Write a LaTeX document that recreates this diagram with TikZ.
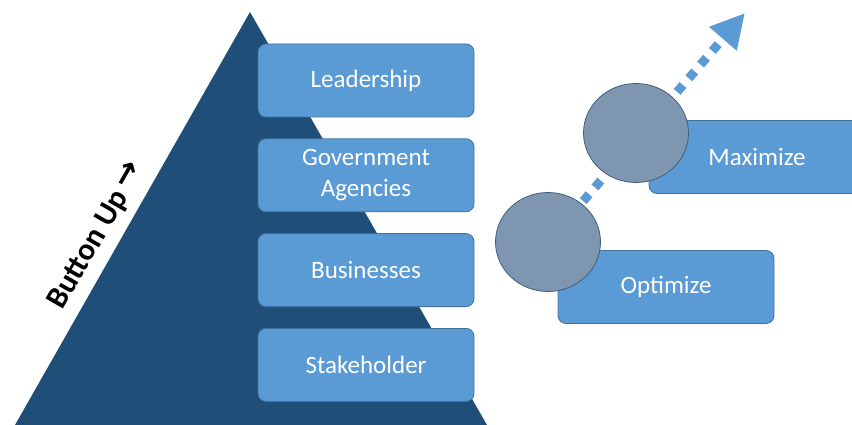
\documentclass[tikz,border=0pt]{standalone}
\usepackage{fontspec}
\setmainfont{Carlito}
\newfontfamily\arrowfont{DejaVu Sans}
\usetikzlibrary{ % tikz packages
    positioning,shapes.geometric,
    arrows.meta,backgrounds
}
\definecolor{pyramid}{HTML}{1F4E79}
\definecolor{boxfill}{HTML}{5B9BD5}
\definecolor{boxline}{HTML}{41719C}
\definecolor{knotfill}{HTML}{7F96B0}
\definecolor{knotline}{HTML}{3F5F80}
\tikzset{level/.style={
    rectangle,
    rounded corners=8pt,
    draw=boxline,
    fill=boxfill,
    line width=0.8pt,
    minimum width=216pt,
    minimum height=73pt,
    text=white,
    align=center,
    font=\fontsize{25}{31}\selectfont
}}
\tikzset{knot/.style={
    ellipse,
    draw=knotline,
    fill=knotfill,
    line width=0.8pt,
    minimum width=105pt,
    minimum height=99pt
}}
\tikzset{trail/.style={
    draw=boxfill,
    line width=9pt,
    dash pattern=on 9pt off 9pt,
    -{Triangle[width=34pt,length=34pt]}
}}

\begin{document}
\begin{tikzpicture}[x=1pt,y=-1pt,node distance=21pt]
        \useasboundingbox (0,0) rectangle (852,425);
        \clip (0,0) rectangle (852,425);

        \fill[pyramid] (250,12) -- (487,425) -- (15,425) -- cycle;
        \node[rotate=60,font=\bfseries\fontsize{31}{36}\selectfont] (dir) at (97,236) {Button Up\,\raisebox{3pt}{\arrowfont\bfseries\fontsize{32}{36}\selectfont →}};

        \node[level] (lead) at (366,80.5) {Leadership};
        \node[level] (gov) [below=of lead] {Government\\Agencies};
        \node[level] (bus) [below=of gov] {Businesses};
        \node[level] (stake) [below=of bus] {Stakeholder};

        \node[level] (max) at (757,157) {Maximize};
        \node[level] (opt) at (666,287) {Optimize};

        \node[knot] (hiknot) at (636,133) {};
        \node[knot] (loknot) at (548,242) {};
        \coordinate (tip) at (745,13);

        \begin{pgfonlayer}{background}
            \path[trail] (loknot.center) -- (tip);
        \end{pgfonlayer}
    \end{tikzpicture}
\end{document}
